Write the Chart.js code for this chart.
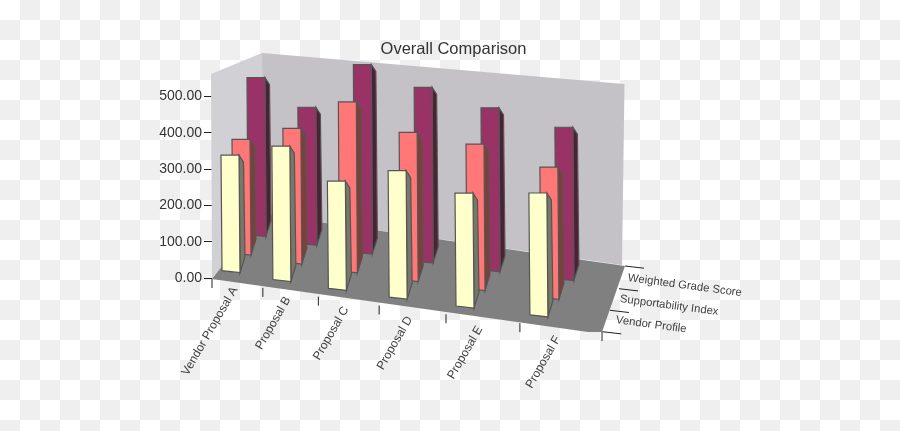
<!DOCTYPE html>
<html>
<head>
<meta charset="utf-8">
<title>Overall Comparison</title>
<script src="https://cdn.jsdelivr.net/npm/chart.js@4"></script>
<style>
  body { margin: 0; background: #fff; }
  canvas { display: block; }
</style>
</head>
<body>
<canvas id="chart" width="900" height="431"></canvas>
<script>
const categories = ["Vendor Proposal A", "Proposal B", "Proposal C", "Proposal D", "Proposal E", "Proposal F"];
const seriesNames = ["Vendor Profile", "Supportability Index", "Weighted Grade Score"];
const vendorProfile = [328, 370, 292, 337, 295, 312];
const supportability = [343, 394, 487, 416, 400, 354];
const weightedGrade = [505, 429, 579, 525, 480, 440];
const yTickValues = [0, 100, 200, 300, 400, 500];

const FONT = "'Liberation Sans', Arial, sans-serif";

// fake perspective of the floor: x bunches up on the left, y stays linear
function floorX(u) {
  const c = -0.25;
  return 212 + 390 * ((1 + c) * u) / (1 + c * u);
}
function floorY(u) {
  return 279 + 53 * u;
}

// how far each row of columns sits behind the front edge
const rowX = [10, 21, 36];
const rowY = [-8.3, -25.8, -44.5];

function depthScale(u, row) {
  return (1 - 0.21 * (-rowY[row] / 65)) * (1 + 0.13 * u);
}

function polygon(ctx, points, fill, stroke) {
  ctx.beginPath();
  points.forEach((p, n) => n ? ctx.lineTo(p[0], p[1]) : ctx.moveTo(p[0], p[1]));
  ctx.closePath();
  ctx.fillStyle = fill;
  ctx.fill();
  if (stroke) {
    ctx.strokeStyle = stroke;
    ctx.lineWidth = 1.2;
    ctx.stroke();
  }
}

function drawColumn(ctx, index, row, bar, front, side) {
  const u = index / categories.length;
  const w = 18;
  const x = floorX(u) + rowX[row];
  const bottom = floorY(u) + rowY[row];
  const top = bottom - (bar.base - bar.y) * depthScale(u, row);
  const edge = "#555";
  polygon(ctx, [
    [x + w - 1, top],
    [x + w + 3.5, top + 7],
    [x + w + 5, bottom - 14],
    [x + w, bottom + 2]
  ], side, edge);
  polygon(ctx, [
    [x - 1, top],
    [x + w - 1, top],
    [x + w, bottom + 2],
    [x, bottom]
  ], front, edge);
}

// the bars keep going through the scales, only the drawing is 3D
class Column3D extends Chart.BarController {
  draw() {
    const ctx = this.chart.ctx;
    const dataset = this.getDataset();
    this.getMeta().data.forEach((bar, i) => {
      drawColumn(ctx, i, this.index, bar, dataset.backgroundColor, dataset.sideColor);
    });
  }
}
Column3D.id = "column3d";
Column3D.defaults = {};
Chart.register(Column3D);

function drawTick(ctx, x1, y1, x2, y2) {
  ctx.beginPath();
  ctx.moveTo(x1, y1);
  ctx.lineTo(x2, y2);
  ctx.stroke();
}

function drawRotatedText(ctx, text, x, y, angle, align) {
  ctx.save();
  ctx.translate(x, y);
  ctx.rotate(angle * Math.PI / 180);
  ctx.textAlign = align;
  ctx.textBaseline = "middle";
  ctx.fillText(text, 0, 0);
  ctx.restore();
}

const roomPlugin = {
  id: "room",
  beforeDraw(chart) {
    // the see-through checkerboard is part of the picture
    const ctx = chart.ctx;
    ctx.fillStyle = "#efefef";
    for (let row = 0; row < 22; row++) {
      for (let col = 0; col < 45; col++) {
        if ((row + col) % 2) ctx.fillRect(col * 20, row * 20, 20, 20);
      }
    }
  },
  beforeDatasetsDraw(chart) {
    const ctx = chart.ctx;
    polygon(ctx, [[211, 74], [262, 53], [263, 214], [212, 279]], "#d1d0d5");
    polygon(ctx, [[262, 53], [624.5, 84], [622, 265], [263, 214]], "#c4c2c6");
    polygon(ctx, [[212, 279], [588, 332], [602, 332], [625, 266], [263, 214]], "#808080");
  },
  afterDatasetsDraw(chart) {
    const ctx = chart.ctx;
    ctx.save();
    ctx.strokeStyle = "#222";
    ctx.lineWidth = 1;
    ctx.fillStyle = "#404040";
    ctx.font = "12px " + FONT;

    // category ticks and slanted labels along the front edge
    for (let i = 0; i <= categories.length; i++) {
      const u = i / categories.length;
      drawTick(ctx, floorX(u), floorY(u), floorX(u), floorY(u) + 9);
    }
    categories.forEach((name, i) => {
      const u = (i + 0.5) / categories.length;
      drawRotatedText(ctx, name, floorX(u) - 2, floorY(u) + 4 + 6 * u, -60, "right");
    });

    // depth ticks and series names along the right edge
    const depthTicks = [[602.3, 331.7], [610, 310.3], [619, 288.7], [625, 266]];
    depthTicks.forEach(p => drawTick(ctx, p[0], p[1], p[0] + 19, p[1] + 2.2));
    ctx.font = "11.3px " + FONT;
    const nameSpots = [[616, 320], [620, 299], [628, 278]];
    seriesNames.forEach((name, i) => {
      drawRotatedText(ctx, name, nameSpots[i][0], nameSpots[i][1], 7.5, "left");
    });
    ctx.restore();
  }
};

new Chart(document.getElementById("chart"), {
  type: "column3d",
  data: {
    labels: categories,
    datasets: [
      { label: seriesNames[0], data: vendorProfile, backgroundColor: "#ffffcc", sideColor: "#77776a", clip: false },
      { label: seriesNames[1], data: supportability, backgroundColor: "#ff7777", sideColor: "#7d4038", clip: false },
      { label: seriesNames[2], data: weightedGrade, backgroundColor: "#993366", sideColor: "#4d2033", clip: false }
    ]
  },
  options: {
    responsive: false,
    animation: false,
    layout: { padding: { left: 7, bottom: 152.7 } },
    plugins: {
      legend: { display: false },
      tooltip: { enabled: false },
      title: {
        display: true,
        text: "Overall Comparison",
        color: "#333",
        font: { family: FONT, size: 16.5, weight: "normal" },
        padding: { top: 40, bottom: 3.9 }
      }
    },
    scales: {
      x: { display: false },
      y: {
        min: 0,
        max: 590,
        afterFit(scale) { scale.width = 205; },
        afterBuildTicks(scale) { scale.ticks = yTickValues.map(value => ({ value })); },
        border: { display: false },
        grid: { drawOnChartArea: false, tickLength: 8, color: "#222" },
        ticks: {
          padding: 2,
          color: "#333",
          font: { family: FONT, size: 14 },
          callback: value => value.toFixed(2)
        }
      }
    }
  },
  plugins: [roomPlugin]
});
</script>
</body>
</html>
